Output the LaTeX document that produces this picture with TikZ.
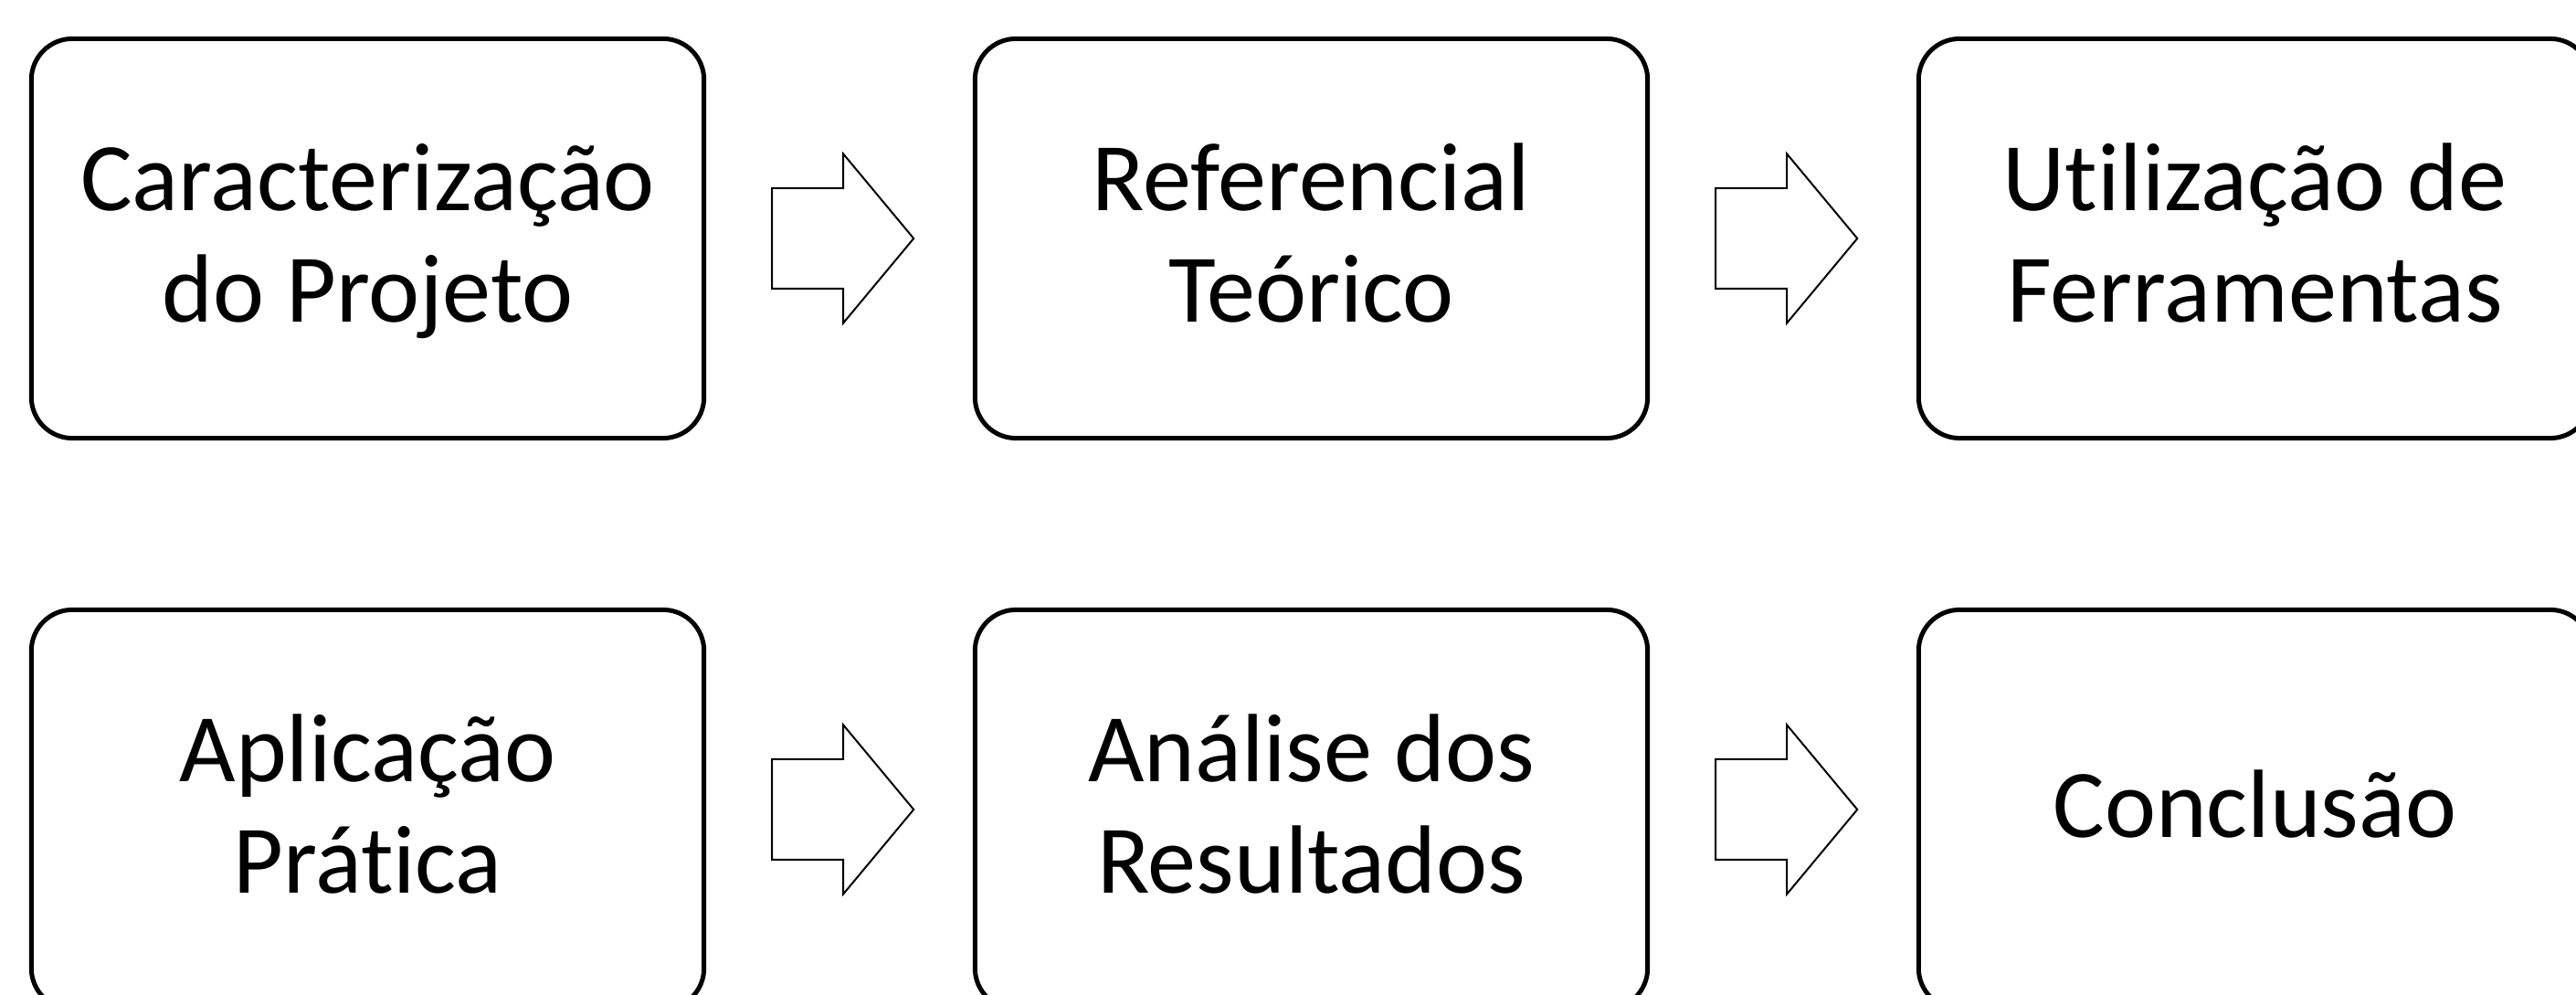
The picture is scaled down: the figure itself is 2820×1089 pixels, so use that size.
\documentclass[tikz,border=0pt]{standalone}
\usepackage{fontspec}
\setmainfont{Carlito}[Ligatures={CommonOff,ContextualOff}]
\usetikzlibrary{calc}
\newcommand{\lnstrut}{\rule[-0.269em]{0pt}{1.115em}}
\tikzset{
  stepbox/.style={draw=black, line width=0.05cm, rounded corners=0.45cm,
    minimum width=7.36cm, minimum height=4.37cm, inner sep=0pt, outer sep=0pt,
    align=center, font=\fontsize{30.2pt}{33.6pt}\selectfont, fill=white},
  blockarrow/.style={draw=black, line width=0.02cm, fill=white, line join=miter}
}
\begin{document}
\begin{tikzpicture}[x=0.01cm, y=-0.01cm]
\clip (0,0) rectangle (2820,1089);
\fill[white] (0,0) rectangle (2820,1089);
\node[stepbox] (b1) at (402.5,261) {\lnstrut Caracterização\\\lnstrut do Projeto};
\node[stepbox] (b2) at (1435.5,261) {\lnstrut Referencial\\\lnstrut Teórico};
\node[stepbox] (b3) at (2468.5,261) {\lnstrut Utilização de\\\lnstrut Ferramentas};
\node[stepbox] (b4) at (402.5,886) {\lnstrut Aplicação\\\lnstrut Prática};
\node[stepbox] (b5) at (1435.5,886) {\lnstrut Análise dos\\\lnstrut Resultados};
\node[stepbox] (b6) at (2468.5,886) {\lnstrut Conclusão};
\foreach \s in {b1,b2,b4,b5}{
  \draw[blockarrow] ($(\s.east)+(74.5,-55)$) -- ++(78,0) -- ++(0,-37.5)
    -- ++(77,92.5) -- ++(-77,92.5) -- ++(0,-37.5) -- ++(-78,0) -- cycle;
}
\end{tikzpicture}
\end{document}
